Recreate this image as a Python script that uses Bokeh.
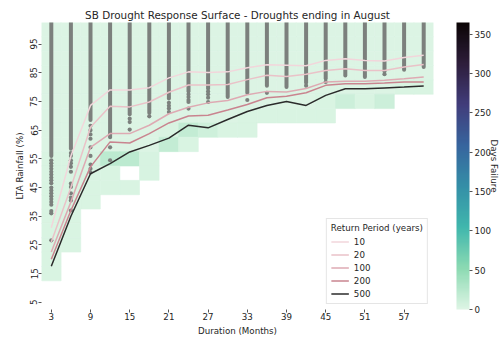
import math
import numpy as np
from bokeh.plotting import figure
from bokeh.models import (ColumnDataSource, LinearColorMapper, ColorBar, FixedTicker,
                          Range1d, Legend, LegendItem, LinearAxis)
from bokeh.transform import transform
from bokeh.embed import file_html
from bokeh.resources import INLINE

# ---------------- data ----------------
durations = [3, 6, 9, 12, 15, 18, 21, 24, 27, 30, 33, 36, 39, 42, 45, 48, 51, 54, 57, 60]
rainfall_bins = [100, 95, 90, 85, 80, 75, 70, 65, 60, 55, 50, 45, 40, 35, 30, 25, 20, 15, 10, 5]
N = None
# days of failure per (rainfall bin row, duration column); None = no data
days_failure = [
    [2, 2, 2, 2, 2, 2, 2, 2, 2, 2, 2, 2, 2, 2, 2, 2, 2, 2, 2, 2],
    [2, 2, 2, 2, 2, 2, 2, 2, 2, 2, 2, 2, 2, 2, 2, 2, 2, 2, 2, 2],
    [2, 2, 2, 2, 2, 2, 2, 2, 2, 2, 2, 2, 2, 2, 2, 2, 2, 2, 2, 2],
    [2, 2, 2, 2, 2, 2, 2, 2, 2, 2, 2, 2, 2, 2, 2, 2, 2, 2, 2, 2],
    [2, 2, 2, 2, 2, 2, 2, 2, 2, 2, 2, 2, 2, 2, 2, 2, 2, 2, 4, 4],
    [2, 2, 2, 2, 2, 2, 2, 2, 2, 2, 2, 2, 2, 2, 3, 12, 4, 12, N, N],
    [2, 2, 2, 2, 2, 2, 2, 2, 2, 2, 3, 4, 4, 4, 4, N, N, N, N, N],
    [2, 2, 2, 2, 2, 2, 3, 18, 10, 4, 4, N, N, N, N, N, N, N, N, N],
    [2, 2, 2, 2, 2, 2, 18, 4, N, N, N, N, N, N, N, N, N, N, N, N],
    [3, 3, 3, 22, 22, 5, N, N, N, N, N, N, N, N, N, N, N, N, N, N],
    [3, 3, 3, 4, N, 5, N, N, N, N, N, N, N, N, N, N, N, N, N, N],
    [3, 3, 4, 4, 4, N, N, N, N, N, N, N, N, N, N, N, N, N, N, N],
    [3, 3, 4, N, N, N, N, N, N, N, N, N, N, N, N, N, N, N, N, N],
    [3, 3, N, N, N, N, N, N, N, N, N, N, N, N, N, N, N, N, N, N],
    [3, 3, N, N, N, N, N, N, N, N, N, N, N, N, N, N, N, N, N, N],
    [3, 4, N, N, N, N, N, N, N, N, N, N, N, N, N, N, N, N, N, N],
    [3, N, N, N, N, N, N, N, N, N, N, N, N, N, N, N, N, N, N, N],
    [4, N, N, N, N, N, N, N, N, N, N, N, N, N, N, N, N, N, N, N],
    [N, N, N, N, N, N, N, N, N, N, N, N, N, N, N, N, N, N, N, N],
    [N, N, N, N, N, N, N, N, N, N, N, N, N, N, N, N, N, N, N, N],
]

# simulated drought rainfall: dense band from this value upward, plus isolated points
dense_min = [56, 58.5, 68.5, 62.5, 70.5, 71, 76, 78.5, 79.5, 76.5,
             78, 80.5, 80, 81.5, 83, 84, 83.5, 85.5, 86, 87]
scatter_points = {
    3: [54.5, 53.5, 52.5, 51.5, 50.5, 49.5, 48.5, 47.5, 46.5, 45, 44, 43, 42, 41, 40, 39, 36.8, 36, 26.6],
    6: [57, 56, 54.5, 53.5, 52.2, 50.5, 46.4, 45.2, 43, 41.5, 40.5, 37],
    9: [66.5, 65, 63.5, 62, 59, 56, 53, 51.5, 50.2],
    12: [59, 54.5],
    15: [69, 67.8, 65.2],
    18: [69.8],
    21: [74.5, 73.5, 72.5, 71.3],
    24: [77.5, 76.5, 75.5, 74.8, 72.5],
    27: [78.5, 77.5, 76.3, 74.8],
    33: [75.5],
    36: [78],
    42: [80.5],
    45: [81.8],
    54: [84.5],
}

return_periods = ["10", "20", "100", "200", "500"]
rp10 = [31, 56, 73.6, 79, 79, 79.8, 83.2, 85.3, 85.1, 85.3, 86.7, 87.8, 87.6, 87.4, 89.3, 89.9, 89.3, 89.1, 90.3, 91.1]
rp20 = [26, 45, 66, 73.3, 73.1, 74.8, 78.2, 80.7, 80.7, 80.9, 82.6, 84.1, 83.7, 84.5, 85.8, 86.4, 85.8, 85.8, 87.0, 87.9]
rp100 = [22.5, 40, 59, 63.8, 63.8, 66.7, 70.7, 73, 74.5, 75.3, 77.3, 78.5, 78.3, 79.5, 81.8, 82.0, 82.0, 82.4, 82.9, 83.5]
rp200 = [20, 37, 52.2, 60.9, 60.5, 63.8, 67.5, 69.9, 70.2, 72, 73.9, 76.3, 76.8, 78, 80.6, 81.2, 81.2, 81.4, 81.8, 81.8]
rp500 = [17.6, 35, 49.8, 53.3, 57.4, 59.7, 62.2, 66.7, 65.8, 68.7, 71.5, 73.6, 75, 73.6, 77.1, 79.4, 79.4, 79.7, 80, 80.4]

x_ticks = [3, 9, 15, 21, 27, 33, 39, 45, 51, 57]
y_ticks = [5, 15, 25, 35, 45, 55, 65, 75, 85, 95]
cbar_ticks = [0, 50, 100, 150, 200, 250, 300, 350]
days_max = 365

# ---------------- styling ----------------
FONT = "DejaVu Sans"
TXT = "#262626"
line_colors = ["#f2d6db", "#eac2c8", "#deaab3", "#c9848f", "#2b2b2b"]

# mako_r style palette (light mint -> dark)
anchors = ["#DEF5E5", "#8BDAB2", "#40B7AD", "#348FA7", "#37659E", "#413D7B", "#2E1E3B", "#0B0405"]
anc = np.array([[int(c[i:i + 2], 16) for i in (1, 3, 5)] for c in anchors], dtype=float)
pos = np.linspace(0, 1, len(anchors))
t = np.linspace(0, 1, 256)
palette = []
for tt in t:
    rgb = [np.interp(tt, pos, anc[:, j]) for j in range(3)]
    palette.append("#%02x%02x%02x" % tuple(int(round(v)) for v in rgb))

mapper = LinearColorMapper(palette=palette, low=0, high=days_max)

# ---------------- figure ----------------
p = figure(width=503, height=341, x_range=Range1d(1.5, 61.5), y_range=Range1d(2.5, 102.5),
           output_backend="svg", toolbar_location=None,
           min_border_left=41, min_border_right=70, min_border_top=22, min_border_bottom=32)
p.outline_line_color = None
p.grid.visible = False
p.background_fill_color = "white"

# heatmap
hx, hy, hv = [], [], []
for r, rain in enumerate(rainfall_bins):
    for c, d in enumerate(durations):
        v = days_failure[r][c]
        if v is not None:
            hx.append(d)
            hy.append(rain)
            hv.append(v)
hsrc = ColumnDataSource(dict(x=hx, y=hy, v=hv))
p.rect(x="x", y="y", width=3, height=5, source=hsrc,
       fill_color=transform("v", mapper), line_color=transform("v", mapper), line_width=0.6)

# dense simulated bands
dot_color = "#7c807d"
p.segment(x0=durations, y0=dense_min, x1=durations, y1=[104] * len(durations),
          line_color=dot_color, line_width=4, line_cap="round")
sx, sy = [], []
for d, vals in scatter_points.items():
    for v in vals:
        sx.append(d)
        sy.append(v)
p.scatter(sx, sy, size=4.2, fill_color=dot_color, line_color=None)

# return period lines
items = []
for lab, vals, col in zip(return_periods, [rp10, rp20, rp100, rp200, rp500], line_colors):
    r = p.line(durations, vals, line_color=col, line_width=1.5)
    items.append(LegendItem(label=lab, renderers=[r]))

legend = Legend(items=items, title="Return Period (years)", location="bottom_right",
                margin=5, padding=4, spacing=2, label_height=11, glyph_height=11, glyph_width=18,
                label_standoff=5, title_standoff=3,
                label_text_font=FONT, label_text_font_size="8.7px", label_text_color=TXT,
                title_text_font=FONT, title_text_font_size="8.7px", title_text_font_style="normal",
                title_text_color=TXT, border_line_color="#cccccc", background_fill_alpha=0.85)
p.add_layout(legend)

# axes
p.xaxis.ticker = FixedTicker(ticks=x_ticks)
p.yaxis.ticker = FixedTicker(ticks=y_ticks)
p.xaxis.axis_label = "Duration (Months)"
p.yaxis.axis_label = "LTA Rainfall (%)"
for ax in (p.xaxis[0], p.yaxis[0]):
    ax.axis_line_color = None
    ax.major_tick_line_color = "#555555"
    ax.major_tick_out = 3
    ax.major_tick_in = 0
    ax.minor_tick_line_color = None
    ax.major_label_text_font = FONT
    ax.major_label_text_font_size = "8.7px"
    ax.major_label_text_color = TXT
    ax.axis_label_text_font = FONT
    ax.axis_label_text_font_size = "8.7px"
    ax.axis_label_text_font_style = "normal"
    ax.axis_label_text_color = TXT
p.xaxis.major_label_standoff = 0
p.xaxis.axis_label_standoff = 3
p.yaxis.major_label_standoff = 1
p.yaxis.axis_label_standoff = 3
p.yaxis.major_label_orientation = "vertical"

# title
p.title.text = "SB Drought Response Surface - Droughts ending in August"
p.title.align = "center"
p.title.text_font = FONT
p.title.text_font_size = "10.4px"
p.title.text_font_style = "normal"
p.title.text_color = TXT
p.title.standoff = 4

# colorbar
cbar = ColorBar(color_mapper=mapper, ticker=FixedTicker(ticks=cbar_ticks), width=13,
                padding=0, margin=0, location=(23, 0), bar_line_color=None, border_line_color=None,
                background_fill_color=None, major_tick_in=0, major_tick_out=3,
                major_tick_line_color="#555555", minor_tick_line_color=None,
                major_label_text_font=FONT, major_label_text_font_size="8.7px",
                major_label_text_color=TXT, label_standoff=2)
p.add_layout(cbar, "right")

# colorbar caption as an axis label on the far right
p.extra_y_ranges = {"cb": Range1d(0, days_max)}
cax = LinearAxis(y_range_name="cb", axis_label="Days Failure", ticker=FixedTicker(ticks=[]),
                 axis_line_color=None, major_tick_line_color=None, minor_tick_line_color=None,
                 major_tick_out=0, major_tick_in=0, major_label_standoff=0,
                 major_label_text_font_size="0px", axis_label_standoff=-6,
                 axis_label_text_font=FONT, axis_label_text_font_size="8.7px",
                 axis_label_text_font_style="normal", axis_label_text_color=TXT)
p.add_layout(cax, "right")

open("out.html", "w").write(file_html(p, INLINE))
